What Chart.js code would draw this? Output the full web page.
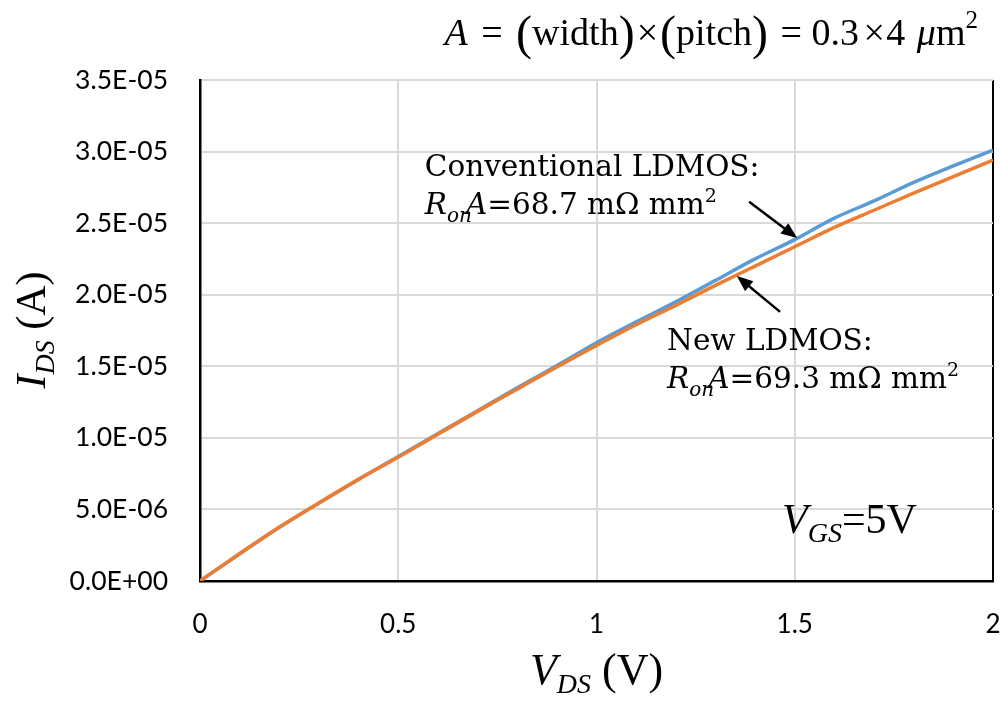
<!DOCTYPE html>
<html>
<head>
<meta charset="utf-8">
<script src="https://cdn.jsdelivr.net/npm/chart.js@4"></script>
<style>
  body { margin: 0; background: #fff; }
  #wrap { width: 1001px; height: 704px; }
</style>
</head>
<body>
<div id="wrap"><canvas id="ids" width="1001" height="704"></canvas></div>
<script>
// drain voltage sweep (V)
var vds = [0, 0.1, 0.2, 0.3, 0.4, 0.5, 0.6, 0.7, 0.8, 0.9, 1.0,
           1.1, 1.2, 1.3, 1.4, 1.5, 1.6, 1.7, 1.8, 1.9, 2.0];
// drain current, in uA
var convIds = [0, 1.9, 3.75, 5.45, 7.1, 8.7, 10.3, 11.9, 13.5, 15.05, 16.65,
               18.1, 19.5, 21.0, 22.5, 23.85, 25.35, 26.55, 27.85, 29.0, 30.1];
var newIds  = [0, 1.9, 3.75, 5.45, 7.1, 8.65, 10.25, 11.85, 13.4, 14.95, 16.45,
               17.9, 19.25, 20.65, 22.0, 23.35, 24.7, 25.9, 27.1, 28.25, 29.4];
var xTicks = [0, 0.5, 1, 1.5, 2];
var yMax = 3.5e-5, yStep = 5e-6;

// annotation arrows, [V, uA] tail -> head
var convArrow = [[1.385, 26.5], [1.506, 23.96]];
var newArrow  = [[1.463, 18.8], [1.354, 21.3]];

function toPoints(ua) {
  return vds.map(function (v, i) { return { x: v, y: ua[i] * 1e-6 }; });
}

// 3.5E-05 style labels
function sci(v) {
  var p = Number(v).toExponential(1).split('e');
  var e = +p[1];
  return p[0] + 'E' + (e < 0 ? '-' : '+') + String(Math.abs(e)).padStart(2, '0');
}

function serif(size, italic) {
  return (italic ? 'italic ' : '') + size + 'px "Liberation Serif", "Times New Roman", serif';
}
function note(size, italic) {
  return (italic ? 'italic ' : '') + size + 'px "DejaVu Serif", serif';
}

// draw a row of differently styled text pieces
function rich(ctx, x, y, parts, align) {
  var w = 0;
  parts.forEach(function (p) {
    ctx.font = p.f;
    p.w = ctx.measureText(p.t).width + (p.k || 0);
    w += p.w;
  });
  var cx = align === 'right' ? x - w : align === 'center' ? x - w / 2 : x;
  parts.forEach(function (p) {
    ctx.font = p.f;
    ctx.fillText(p.t, cx + (p.pre || 0), y + (p.dy || 0));
    cx += p.w;
  });
}

function arrow(ctx, x0, y0, x1, y1) {
  var a = Math.atan2(y1 - y0, x1 - x0), h = 16;
  ctx.beginPath();
  ctx.moveTo(x0, y0);
  ctx.lineTo(x1 - Math.cos(a) * h * 0.8, y1 - Math.sin(a) * h * 0.8);
  ctx.stroke();
  ctx.beginPath();
  ctx.moveTo(x1, y1);
  ctx.lineTo(x1 - h * Math.cos(a) + 6.5 * Math.sin(a), y1 - h * Math.sin(a) - 6.5 * Math.cos(a));
  ctx.lineTo(x1 - h * Math.cos(a) - 6.5 * Math.sin(a), y1 - h * Math.sin(a) + 6.5 * Math.cos(a));
  ctx.closePath();
  ctx.fill();
}

var labels = {
  id: 'labels',
  afterDraw: function (chart) {
    var ctx = chart.ctx, xs = chart.scales.x, ys = chart.scales.y, area = chart.chartArea;
    var px = function (v) { return xs.getPixelForValue(v); };
    var py = function (ua) { return ys.getPixelForValue(ua * 1e-6); };
    ctx.save();
    ctx.fillStyle = '#000';
    ctx.strokeStyle = '#000';
    ctx.textBaseline = 'alphabetic';

    // area formula above the plot
    rich(ctx, 978, 45, [
      { t: 'A', f: serif(38, true), k: 4 },
      { t: ' = ', f: serif(38), k: 4 },
      { t: '(', f: serif(48), dy: 4 },
      { t: 'width', f: serif(38) },
      { t: ')', f: serif(48), dy: 4, k: 2 },
      { t: '×', f: serif(38), k: 2 },
      { t: '(', f: serif(48), dy: 4 },
      { t: 'pitch', f: serif(38) },
      { t: ')', f: serif(48), dy: 4, k: 3 },
      { t: ' = 0.3', f: serif(38), k: 3 },
      { t: '×', f: serif(38), k: 3, pre: 1.5 },
      { t: '4 ', f: serif(38), k: 2 },
      { t: 'μ', f: serif(38, true) },
      { t: 'm', f: serif(38) },
      { t: '2', f: serif(25), dy: -17 }
    ], 'right');

    // axis titles
    rich(ctx, (area.left + area.right) / 2, 684, [
      { t: 'V', f: serif(44, true) },
      { t: 'DS', f: serif(28, true), dy: 9 },
      { t: ' (V)', f: serif(44) }
    ], 'center');
    ctx.save();
    ctx.translate(45, 330);
    ctx.rotate(-Math.PI / 2);
    rich(ctx, 0, 0, [
      { t: 'I', f: serif(42, true) },
      { t: 'DS', f: serif(28, true), dy: 9 },
      { t: ' (A)', f: serif(42) }
    ], 'center');
    ctx.restore();

    // device notes
    rich(ctx, px(0.567), py(28.3), [{ t: 'Conventional LDMOS:', f: note(29.5) }]);
    rich(ctx, px(0.567), py(25.65), [
      { t: 'R', f: note(29.5, true) },
      { t: 'on', f: note(20, true), dy: 8, k: -6 },
      { t: 'A', f: note(29.5, true) },
      { t: '=68.7 mΩ mm', f: note(29.5) },
      { t: '2', f: note(19), dy: -12 }
    ]);
    rich(ctx, px(1.178), py(16.14), [{ t: 'New LDMOS:', f: note(29.5) }]);
    rich(ctx, px(1.178), py(13.5), [
      { t: 'R', f: note(29.5, true) },
      { t: 'on', f: note(20, true), dy: 8, k: -6 },
      { t: 'A', f: note(29.5, true) },
      { t: '=69.3 mΩ mm', f: note(29.5) },
      { t: '2', f: note(19), dy: -12 }
    ]);
    rich(ctx, px(1.468), py(3.35), [
      { t: 'V', f: serif(42, true) },
      { t: 'GS', f: serif(28, true), dy: 9 },
      { t: '=5V', f: serif(42) }
    ]);

    ctx.lineWidth = 2.5;
    arrow(ctx, px(convArrow[0][0]), py(convArrow[0][1]), px(convArrow[1][0]), py(convArrow[1][1]));
    arrow(ctx, px(newArrow[0][0]), py(newArrow[0][1]), px(newArrow[1][0]), py(newArrow[1][1]));
    ctx.restore();
  }
};

new Chart(document.getElementById('ids'), {
  type: 'line',
  data: {
    datasets: [
      {
        label: 'Conventional LDMOS',
        data: toPoints(convIds),
        borderColor: '#5b9bd5',
        borderWidth: 3.5,
        pointRadius: 0,
        cubicInterpolationMode: 'monotone',
        order: 2
      },
      {
        label: 'New LDMOS',
        data: toPoints(newIds),
        borderColor: '#ed7d31',
        borderWidth: 3.5,
        pointRadius: 0,
        cubicInterpolationMode: 'monotone',
        order: 1
      }
    ]
  },
  options: {
    responsive: false,
    animation: false,
    layout: { padding: { top: 80, right: 8, left: 0, bottom: 0 } },
    plugins: { legend: { display: false }, tooltip: { enabled: false } },
    scales: {
      x: {
        type: 'linear',
        min: 0,
        max: 2,
        afterFit: function (s) {
          s.height = 123;
          s.paddingLeft = 0;
          s.paddingRight = 0;
        },
        afterBuildTicks: function (s) { s.ticks = xTicks.map(function (v) { return { value: v }; }); },
        border: { color: '#000', width: 2.5 },
        grid: {
          drawTicks: false,
          lineWidth: 2,
          color: function (c) { return c.tick && c.tick.value === 2 ? '#000' : '#d9d9d9'; }
        },
        ticks: {
          padding: 28,
          color: '#000',
          font: { family: 'Lato', size: 26 },
          callback: function (v) { return String(v); }
        }
      },
      y: {
        min: 0,
        max: yMax,
        afterFit: function (s) { s.width = 200; },
        border: { color: '#000', width: 2.5 },
        grid: { drawTicks: false, lineWidth: 2, color: '#d9d9d9' },
        ticks: {
          stepSize: yStep,
          padding: 32,
          color: '#000',
          font: { family: 'Lato', size: 26.5 },
          callback: function (v) { return sci(v); }
        }
      }
    }
  },
  plugins: [labels]
});
</script>
</body>
</html>
